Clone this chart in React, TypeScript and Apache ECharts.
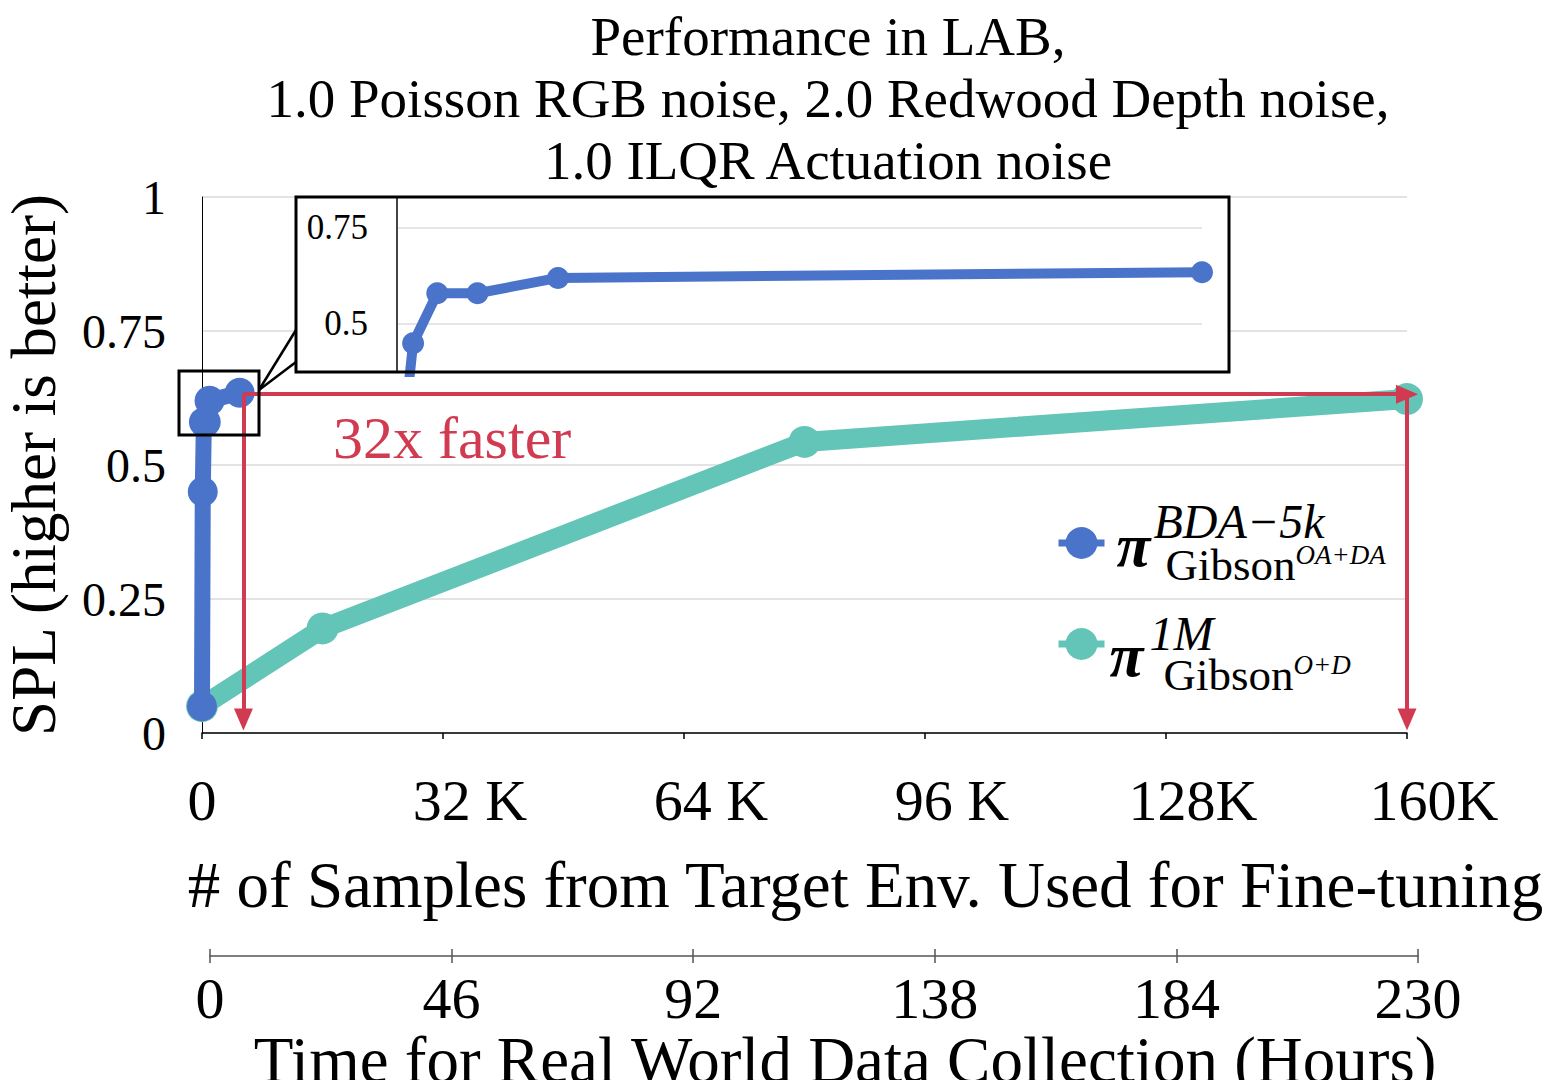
import React, { useEffect, useRef } from 'react';
import * as echarts from 'echarts';

const FONT = '"Liberation Serif", "Times New Roman", Times, serif';
const BLUE = '#4a73ca';
const TEAL = '#63c4b8';
const RED = '#d13b51';

const titleLines = [
  'Performance in LAB,',
  '1.0 Poisson RGB noise, 2.0 Redwood Depth noise,',
  '1.0 ILQR Actuation noise',
];

// BDA-5k (fine-tuned in sim with few real samples)
const bdaX = [0, 100, 250, 500, 1000, 5000];
const bdaY = [0.05, 0.45, 0.58, 0.58, 0.62, 0.635];
// 1M baseline
const gibsonX = [0, 16000, 80000, 160000];
const gibsonY = [0.05, 0.195, 0.543, 0.623];

const sampleTicks = [0, 32000, 64000, 96000, 128000, 160000];
const sampleTickLabels = ['0', '32 K', '64 K', '96 K', '128K', '160K'];
const hourTicks = [0, 46, 92, 138, 184, 230];
const splTicks = [0, 0.25, 0.5, 0.75, 1];
const splTickLabels = ['0', '0.25', '0.5', '0.75', '1'];
const insetTicks = [0.5, 0.75];
const insetTickLabels = ['0.5', '0.75'];

const fasterLevel = 0.632;
const fasterFromX = 5500;
const fasterToX = 160000;
const arrowFloor = 0.025;
const fasterText = '32x faster';

const xName = '# of Samples from Target Env. Used for Fine-tuning';
const x2Name = 'Time for Real World Data Collection (Hours)';
const yName = 'SPL (higher is better)';

export default function App() {
  const ref = useRef<HTMLDivElement>(null);
  useEffect(() => {
    if (!ref.current) return;
    const chart = echarts.init(ref.current, undefined, { renderer: 'svg' });
    const bda = bdaX.map((x, i) => [x, bdaY[i]]);
    const gib = gibsonX.map((x, i) => [x, gibsonY[i]]);
    const labelStyle = { fontFamily: FONT, color: '#000' };
    const option: any = {
      animation: false,
      backgroundColor: '#fff',
      title: {
        text: titleLines.join('\n'),
        left: 828,
        top: 5,
        padding: 0,
        textAlign: 'center',
        textStyle: { fontFamily: FONT, fontSize: 55, lineHeight: 62, fontWeight: 'normal', color: '#000' },
      },
      legend: {
        data: ['BDA-5k', '1M'],
        orient: 'vertical',
        left: 1055,
        top: 497,
        padding: 0,
        itemWidth: 46,
        itemHeight: 40,
        itemGap: -27,
        lineStyle: { width: 7 },
        formatter: (name: string) =>
          name === 'BDA-5k'
            ? '{sp1|}{sup|BDA−5k}\n{g1|}{pi|π}{sub|Gibson}{ss|OA+DA}'
            : '{sp2|}{sup2|1M}\n{pi2|π}{sub2|Gibson}{ss2|O+D}',
        textStyle: {
          fontFamily: FONT,
          color: '#000',
          lineHeight: 44,
          rich: {
            sp1: { width: 44, lineHeight: 44 },
            sup: { fontFamily: FONT, fontSize: 48, fontStyle: 'italic', lineHeight: 44, color: '#000' },
            g1: { width: 7, lineHeight: 44 },
            pi: { fontFamily: FONT, fontSize: 62, fontStyle: 'italic', fontWeight: 'bold', width: 49, lineHeight: 44, padding: [0, 0, 40, 0], color: '#000' },
            sub: { fontFamily: FONT, fontSize: 45, lineHeight: 44, color: '#000' },
            ss: { fontFamily: FONT, fontSize: 27, fontStyle: 'italic', lineHeight: 44, padding: [0, 0, 20, 0], color: '#000' },
            sp2: { width: 40, lineHeight: 62 },
            sup2: { fontFamily: FONT, fontSize: 48, fontStyle: 'italic', lineHeight: 62, padding: [20, 0, 0, 0], color: '#000' },
            pi2: { fontFamily: FONT, fontSize: 62, fontStyle: 'italic', fontWeight: 'bold', width: 54, lineHeight: 42, padding: [0, 0, 40, 0], color: '#000' },
            sub2: { fontFamily: FONT, fontSize: 45, lineHeight: 42, color: '#000' },
            ss2: { fontFamily: FONT, fontSize: 27, fontStyle: 'italic', lineHeight: 42, padding: [0, 0, 20, 0], color: '#000' },
          },
        },
      },
      grid: [
        { left: 202, top: 197, width: 1205, height: 536, outerBoundsMode: 'none', containLabel: false },
        { left: 397, top: 197, width: 805, height: 175, outerBoundsMode: 'none', containLabel: false },
        { left: 210, top: 949, width: 1208, height: 14, outerBoundsMode: 'none', containLabel: false },
      ],
      xAxis: [
        {
          gridIndex: 0,
          type: 'value',
          min: sampleTicks[0],
          max: sampleTicks[sampleTicks.length - 1],
          interval: sampleTicks[1] - sampleTicks[0],
          axisLine: { lineStyle: { color: '#000', width: 1.5 } },
          axisTick: { show: true, length: 6, lineStyle: { color: '#000', width: 1.5 } },
          splitLine: { show: false },
          axisLabel: {
            margin: 38,
            fontSize: 58,
            ...labelStyle,
            formatter: (v: number) => {
              const i = sampleTicks.indexOf(v);
              const t = i >= 0 ? sampleTickLabels[i] : '';
              return v === 0 ? `{z|${t}}` : `{s|${t}}`;
            },
            rich: {
              z: { fontSize: 58, lineHeight: 58, fontFamily: FONT, color: '#000' },
              s: { fontSize: 58, lineHeight: 58, fontFamily: FONT, color: '#000', padding: [0, 0, 0, 54] },
            },
          },
          name: xName,
          nameLocation: 'middle',
          nameGap: 120,
          nameTextStyle: { fontFamily: FONT, fontSize: 65, lineHeight: 64, color: '#000', padding: [0, 0, 0, 122] },
        },
        { gridIndex: 1, type: 'value', min: 0, max: bdaX[bdaX.length - 1], show: false },
        {
          gridIndex: 2,
          type: 'value',
          min: hourTicks[0],
          max: hourTicks[hourTicks.length - 1],
          interval: hourTicks[1] - hourTicks[0],
          axisLine: { onZero: true, lineStyle: { color: '#555', width: 1.5 } },
          axisTick: { show: false },
          splitLine: { show: true, lineStyle: { color: '#555', width: 1.5 } },
          axisLabel: { margin: 6, fontSize: 58, lineHeight: 58, ...labelStyle },
          name: x2Name,
          nameLocation: 'middle',
          nameGap: 31,
          nameTextStyle: { fontFamily: FONT, fontSize: 65, lineHeight: 64, color: '#000', padding: [0, 0, 0, 62] },
        },
      ],
      yAxis: [
        {
          gridIndex: 0,
          type: 'value',
          min: splTicks[0],
          max: splTicks[splTicks.length - 1],
          interval: splTicks[1] - splTicks[0],
          axisLine: { show: true, lineStyle: { color: '#000', width: 1 } },
          axisTick: { show: false },
          splitLine: { show: true, lineStyle: { color: '#dadada', width: 1.5 } },
          axisLabel: {
            margin: 36,
            fontSize: 48,
            ...labelStyle,
            formatter: (v: number) => {
              const i = splTicks.findIndex((t) => Math.abs(t - v) < 1e-6);
              return i >= 0 ? splTickLabels[i] : '';
            },
          },
          name: yName,
          nameLocation: 'middle',
          nameGap: 139,
          nameTextStyle: { fontFamily: FONT, fontSize: 63, lineHeight: 58, color: '#000' },
        },
        {
          gridIndex: 1,
          type: 'value',
          min: 0.375,
          max: 0.8307,
          interval: 0.125,
          z: 5,
          axisLine: { show: true, onZero: false, lineStyle: { color: '#444', width: 2 } },
          axisTick: { show: false },
          splitLine: { show: false },
          axisLabel: {
            margin: 29,
            fontSize: 35,
            ...labelStyle,
            formatter: (v: number) => {
              const i = insetTicks.findIndex((t) => Math.abs(t - v) < 1e-6);
              return i >= 0 ? insetTickLabels[i] : '';
            },
          },
        },
        { gridIndex: 2, type: 'value', min: -1, max: 1, show: false },
      ],
      series: [
        {
          type: 'line',
          name: '1M',
          xAxisIndex: 0,
          yAxisIndex: 0,
          data: gib,
          z: 2,
          symbol: 'circle',
          symbolSize: 32,
          showSymbol: true,
          lineStyle: { color: TEAL, width: 20 },
          itemStyle: { color: TEAL },
          markLine: {
            silent: true,
            symbol: ['none', 'triangle'],
            symbolSize: [19, 22],
            label: { show: false },
            lineStyle: { color: RED, width: 4, type: 'solid' },
            itemStyle: { color: RED },
            emphasis: { disabled: true },
            data: [
              [{ coord: [fasterFromX, fasterLevel] }, { coord: [fasterToX, fasterLevel] }],
              [{ coord: [fasterFromX, fasterLevel] }, { coord: [fasterFromX, arrowFloor] }],
              [{ coord: [fasterToX, fasterLevel] }, { coord: [fasterToX, arrowFloor] }],
            ],
          },
        },
        {
          type: 'line',
          name: 'BDA-5k',
          xAxisIndex: 0,
          yAxisIndex: 0,
          data: bda,
          z: 3,
          symbol: 'circle',
          symbolSize: 30,
          showSymbol: true,
          lineStyle: { color: BLUE, width: 16 },
          itemStyle: { color: BLUE },
        },
        {
          type: 'line',
          name: 'BDA-5k',
          xAxisIndex: 1,
          yAxisIndex: 1,
          data: bda,
          z: 6,
          clip: true,
          symbol: 'circle',
          symbolSize: 22,
          showSymbol: true,
          lineStyle: { color: BLUE, width: 10 },
          itemStyle: { color: BLUE },
          markLine: {
            silent: true,
            symbol: ['none', 'none'],
            label: { show: false },
            z: 5,
            lineStyle: { color: '#dddddd', width: 1.5, type: 'solid' },
            emphasis: { disabled: true },
            data: insetTicks.map((t) => ({ yAxis: t })),
          },
        },
      ],
      graphic: [
        { type: 'rect', z: 4, shape: { x: 296, y: 197, width: 933, height: 175 }, style: { fill: '#fff' } },
        { type: 'rect', z: 7, shape: { x: 296, y: 197, width: 933, height: 175 }, style: { fill: 'none', stroke: '#000', lineWidth: 3 } },
        { type: 'rect', z: 7, shape: { x: 179, y: 371, width: 80, height: 64 }, style: { fill: 'none', stroke: '#000', lineWidth: 3 } },
        { type: 'line', z: 7, shape: { x1: 259, y1: 390, x2: 296, y2: 330 }, style: { stroke: '#000', lineWidth: 2.5 } },
        { type: 'line', z: 7, shape: { x1: 259, y1: 390, x2: 296, y2: 362 }, style: { stroke: '#000', lineWidth: 2.5 } },
        {
          type: 'text',
          z: 7,
          x: 333,
          y: 438,
          style: { text: fasterText, fontSize: 60, fontFamily: FONT, fill: RED, align: 'left', verticalAlign: 'middle' },
        },
      ],
    };
    chart.setOption(option);
    return () => chart.dispose();
  }, []);
  return <div ref={ref} style={{ position: 'absolute', left: 0, top: 0, width: 1548, height: 1080, background: '#fff' }} />;
}
